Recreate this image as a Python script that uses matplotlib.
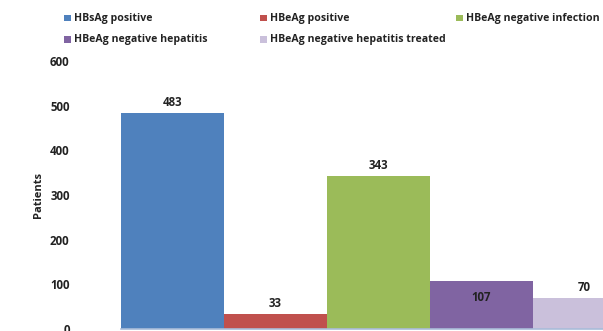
import matplotlib.pyplot as plt
from matplotlib.patches import Rectangle

categories = ["HBsAg positive", "HBeAg positive", "HBeAg negative infection",
              "HBeAg negative hepatitis", "HBeAg negative hepatitis treated"]
patients = [483, 33, 343, 107, 70]
colors = ["#4F81BD", "#C0504D", "#9BBB59", "#8064A2", "#CAC0DB"]
y_ticks = [0, 100, 200, 300, 400, 500, 600]

plt.rcParams['font.family'] = ['Open Sans', 'DejaVu Sans']
plt.rcParams['font.weight'] = 'bold'

fig = plt.figure(figsize=(6.03, 3.31), dpi=100)
ax = fig.add_axes([0.2007, 0.006, 0.7993, 0.8097])

x = list(range(len(patients)))
bars = ax.bar(x, patients, width=1.0, align='edge', color=colors, linewidth=0)

ax.set_xlim(0, 4.68)
ax.set_ylim(0, 600)
ax.set_yticks(y_ticks)
ax.set_xticks([])
ax.tick_params(axis='y', length=0, pad=37, labelsize=8.3, labelcolor='#222222')
ax.set_ylabel("Patients", fontsize=8, fontweight='bold', labelpad=4, color='#222222')
for side in ['top', 'right', 'left']:
    ax.spines[side].set_visible(False)
ax.spines['bottom'].set_color('#A9BCD9')
ax.spines['bottom'].set_linewidth(1.2)

# value labels: the purple one sits inside its bar
for i, (b, v) in enumerate(zip(bars, patients)):
    cx = b.get_x() + b.get_width() / 2
    if i == 3:
        ax.text(cx, v - 36, str(v), ha='center', va='center', fontsize=8.3, color='#222222')
    else:
        ax.text(cx, v + 24, str(v), ha='center', va='center', fontsize=8.3, color='#222222')

# legend entries laid out in two rows
legend_pos = [(0.106, 0.9456), (0.431, 0.9456), (0.757, 0.9456),
              (0.106, 0.882), (0.431, 0.882)]
for (lx, ly), name, c in zip(legend_pos, categories, colors):
    fig.patches.append(Rectangle((lx, ly - 0.0105), 0.0116, 0.021, transform=fig.transFigure,
                                 facecolor=c, edgecolor='none'))
    fig.text(lx + 0.0162, ly, name, fontsize=7.6, va='center', ha='left', color='#222222')

fig.savefig("out.png", dpi=100)
